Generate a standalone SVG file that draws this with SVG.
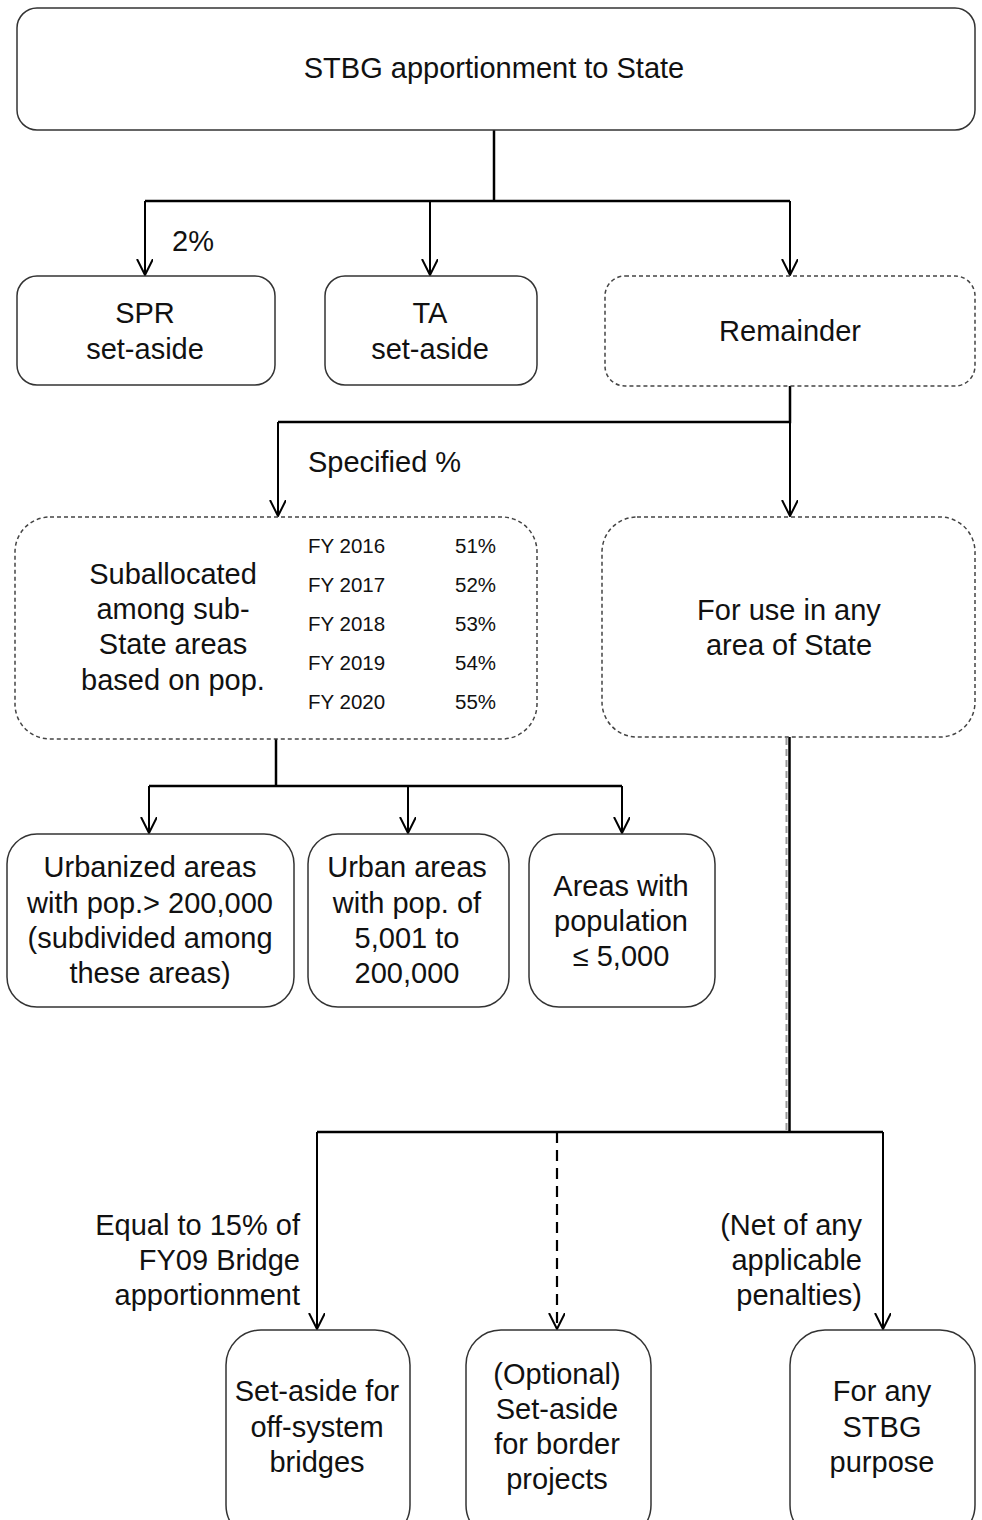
<svg xmlns="http://www.w3.org/2000/svg" width="982" height="1520" viewBox="0 0 982 1520">
<style>
  .box { fill: #fff; stroke: #333; stroke-width: 1.5; }
  .dbox { fill: #fff; stroke: #444; stroke-width: 1.5; stroke-dasharray: 4 3; }
  text { font-family: "Liberation Sans", Arial, sans-serif; fill: #111; }
  .t { font-size: 29px; text-anchor: middle; }
  .l { font-size: 29px; }
  .r { font-size: 29px; text-anchor: end; }
  .s { font-size: 20.5px; }
  .c { fill: none; stroke: #000; stroke-width: 2.5; }
  .a { fill: none; stroke: #000; stroke-width: 2; marker-end: url(#arr); }
  .ad { fill: none; stroke: #000; stroke-width: 2.2; stroke-dasharray: 11 7; marker-end: url(#arr); }
  .ghost { fill: none; stroke: #999; stroke-width: 2; stroke-dasharray: 7 4; }
</style>
<defs>
  <marker id="arr" markerUnits="userSpaceOnUse" markerWidth="22" markerHeight="22" refX="16" refY="8" orient="auto">
    <path d="M0,0 L16,8 L0,16" fill="none" stroke="#000" stroke-width="2"/>
  </marker>
</defs>
<rect width="982" height="1520" fill="#fff"/>

<g id="connectors">
  <path class="c" d="M494,130 V201"/>
  <path class="c" d="M145,201 H790"/>
  <path class="a" d="M145,201 V275"/>
  <path class="a" d="M430,201 V275"/>
  <path class="a" d="M790,201 V275"/>
  <path class="c" d="M790,386 V422 H278"/>
  <path class="a" d="M278,422 V516"/>
  <path class="a" d="M790,422 V516"/>
  <path class="c" d="M276,739 V786"/>
  <path class="c" d="M149,786 H622"/>
  <path class="a" d="M149,786 V833"/>
  <path class="a" d="M408,786 V833"/>
  <path class="a" d="M622,786 V833"/>
  <path class="ghost" d="M786.5,738 V1131"/>
  <path class="c" d="M789.5,737 V1132"/>
  <path class="c" d="M317,1132 H883"/>
  <path class="a" d="M317,1132 V1329"/>
  <path class="ad" d="M557,1132 V1329"/>
  <path class="a" d="M883,1132 V1329"/>
</g>

<g id="labels">
  <text class="l" x="172" y="251">2%</text>
  <text class="l" x="308" y="472">Specified %</text>
  <text class="r" x="300" y="1235">Equal to 15% of</text>
  <text class="r" x="300" y="1270">FY09 Bridge</text>
  <text class="r" x="300" y="1305">apportionment</text>
  <text class="r" x="862" y="1235">(Net of any</text>
  <text class="r" x="862" y="1270">applicable</text>
  <text class="r" x="862" y="1305">penalties)</text>
</g>

<g id="n-top">
  <rect class="box" x="17" y="8" width="958" height="122" rx="20"/>
  <text class="t" x="494" y="78">STBG apportionment to State</text>
</g>
<g id="n-spr">
  <rect class="box" x="17" y="276" width="258" height="109" rx="20"/>
  <text class="t" x="145" y="323">SPR</text>
  <text class="t" x="145" y="359">set-aside</text>
</g>
<g id="n-ta">
  <rect class="box" x="325" y="276" width="212" height="109" rx="20"/>
  <text class="t" x="430" y="323">TA</text>
  <text class="t" x="430" y="359">set-aside</text>
</g>
<g id="n-remainder">
  <rect class="dbox" x="605" y="276" width="370" height="110" rx="20"/>
  <text class="t" x="790" y="341">Remainder</text>
</g>
<g id="n-suballocated">
  <rect class="dbox" x="15" y="517" width="522" height="222" rx="35"/>
  <text class="t" x="173" y="584">Suballocated</text>
  <text class="t" x="173" y="619">among sub-</text>
  <text class="t" x="173" y="654">State areas</text>
  <text class="t" x="173" y="690">based on pop.</text>
  <text class="s" x="308" y="553">FY 2016</text>
  <text class="s" x="308" y="592">FY 2017</text>
  <text class="s" x="308" y="631">FY 2018</text>
  <text class="s" x="308" y="670">FY 2019</text>
  <text class="s" x="308" y="709">FY 2020</text>
  <text class="s" x="455" y="553">51%</text>
  <text class="s" x="455" y="592">52%</text>
  <text class="s" x="455" y="631">53%</text>
  <text class="s" x="455" y="670">54%</text>
  <text class="s" x="455" y="709">55%</text>
</g>
<g id="n-foruse">
  <rect class="dbox" x="602" y="517" width="373" height="220" rx="35"/>
  <text class="t" x="789" y="620">For use in any</text>
  <text class="t" x="789" y="655">area of State</text>
</g>
<g id="n-urbanized">
  <rect class="box" x="7" y="834" width="287" height="173" rx="30"/>
  <text class="t" x="150" y="877">Urbanized areas</text>
  <text class="t" x="150" y="913">with pop.&gt; 200,000</text>
  <text class="t" x="150" y="948">(subdivided among</text>
  <text class="t" x="150" y="983">these areas)</text>
</g>
<g id="n-urban">
  <rect class="box" x="308" y="834" width="201" height="173" rx="30"/>
  <text class="t" x="407" y="877">Urban areas</text>
  <text class="t" x="407" y="913">with pop. of</text>
  <text class="t" x="407" y="948">5,001 to</text>
  <text class="t" x="407" y="983">200,000</text>
</g>
<g id="n-rural">
  <rect class="box" x="529" y="834" width="186" height="173" rx="30"/>
  <text class="t" x="621" y="896">Areas with</text>
  <text class="t" x="621" y="931">population</text>
  <text class="t" x="621" y="966">≤ 5,000</text>
</g>
<g id="n-bridges">
  <rect class="box" x="226" y="1330" width="184" height="210" rx="35"/>
  <text class="t" x="317" y="1401">Set-aside for</text>
  <text class="t" x="317" y="1437">off-system</text>
  <text class="t" x="317" y="1472">bridges</text>
</g>
<g id="n-border">
  <rect class="box" x="466" y="1330" width="185" height="210" rx="35"/>
  <text class="t" x="557" y="1384">(Optional)</text>
  <text class="t" x="557" y="1419">Set-aside</text>
  <text class="t" x="557" y="1454">for border</text>
  <text class="t" x="557" y="1489">projects</text>
</g>
<g id="n-anypurpose">
  <rect class="box" x="790" y="1330" width="185" height="210" rx="35"/>
  <text class="t" x="882" y="1401">For any</text>
  <text class="t" x="882" y="1437">STBG</text>
  <text class="t" x="882" y="1472">purpose</text>
</g>
</svg>
